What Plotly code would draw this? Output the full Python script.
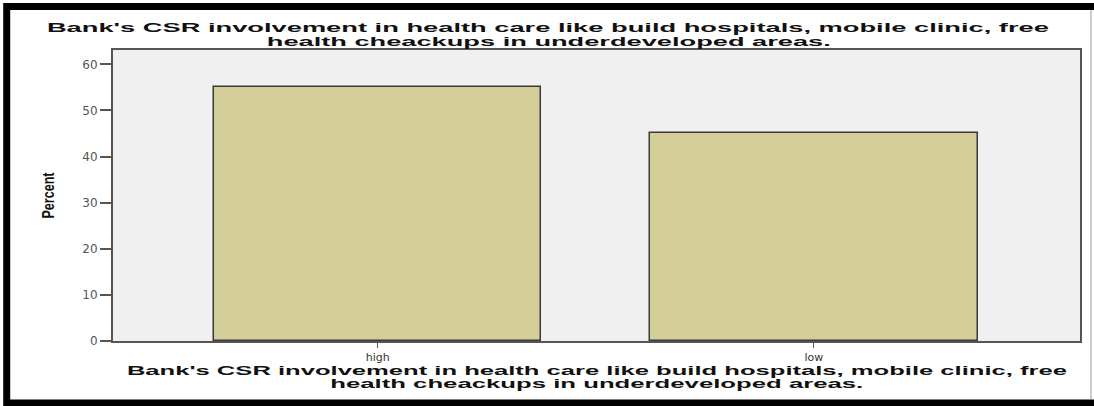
import plotly.graph_objects as go

categories = ["high", "low"]
percent = [55.0, 45.0]
y_ticks = [0, 10, 20, 30, 40, 50, 60]
title_lines = [
    "Bank's CSR involvement in health care like build hospitals, mobile clinic, free",
    "health cheackups in underdeveloped areas.",
]
y_label = "Percent"

W, H = 1094, 406
L, R, T, B = 113, 12, 50, 65
PW, PH = W - L - R, H - T - B


def px_x(px):
    return (px - L) / PW


def px_y(py):
    return (H - B - py) / PH


fig = go.Figure()
fig.add_trace(go.Bar(
    x=categories, y=percent, width=0.75,
    marker=dict(color="#d3ce98", line=dict(color="#3a3a3a", width=1.5)),
    hoverinfo="x+y",
))

title_font = dict(family="Liberation Sans, Arial", size=13, color="#111111", weight="bold")
ann = []
for line, py in zip(title_lines, [27, 41]):
    ann.append(dict(text=line, xref="paper", yref="paper", x=px_x(549), y=px_y(py),
                    xanchor="center", yanchor="middle", showarrow=False, font=title_font))
for line, py in zip(title_lines, [370, 383.5]):
    ann.append(dict(text=line, xref="paper", yref="paper", x=0.5, y=px_y(py),
                    xanchor="center", yanchor="middle", showarrow=False, font=title_font))

shapes = [
    dict(type="rect", xref="paper", yref="paper",
         x0=px_x(6.5), x1=px_x(1100), y0=px_y(403), y1=px_y(6.5),
         line=dict(color="black", width=7), fillcolor="rgba(0,0,0,0)", layer="below"),
    dict(type="line", xref="paper", yref="paper",
         x0=px_x(1093), x1=px_x(1093), y0=px_y(399), y1=px_y(10),
         line=dict(color="#999999", width=1)),
]

fig.update_layout(
    width=W, height=H,
    margin=dict(l=L, r=R, t=T, b=B),
    paper_bgcolor="white",
    plot_bgcolor="#f0f0f0",
    showlegend=False,
    bargap=0,
    annotations=ann,
    shapes=shapes,
    xaxis=dict(
        type="category", range=[-0.607, 1.61],
        showline=True, linecolor="#555555", linewidth=2, mirror=True,
        ticks="outside", ticklen=5, tickwidth=1, tickcolor="#555555",
        tickfont=dict(family="DejaVu Sans", size=11, color="#333333"),
        showgrid=False, zeroline=False,
    ),
    yaxis=dict(
        range=[0, 63.1], tickvals=y_ticks,
        showline=True, linecolor="#555555", linewidth=2, mirror=True,
        ticks="outside", ticklen=11, tickwidth=1.5, tickcolor="#555555",
        tickfont=dict(family="DejaVu Sans", size=12, color="#555555"),
        showgrid=False, zeroline=False,
        title=dict(text=y_label, standoff=24,
                   font=dict(family="Liberation Sans, Arial", size=16,
                             color="#111111", weight="bold")),
    ),
)

post_script = """
document.body.style.margin = '0';
document.body.style.padding = '0';
var gd = document.getElementById('{plot_id}');
function stretchTexts() {
  var widths = [1002, 564, 940, 533];
  var t = gd.querySelectorAll('text.annotation-text');
  t.forEach(function (el, i) {
    if (i < widths.length) {
      el.setAttribute('textLength', widths[i]);
      el.setAttribute('lengthAdjust', 'spacingAndGlyphs');
    }
  });
  var yt = gd.querySelector('text.ytitle');
  if (yt) {
    yt.setAttribute('textLength', 46);
    yt.setAttribute('lengthAdjust', 'spacingAndGlyphs');
  }
}
stretchTexts();
gd.on('plotly_afterplot', stretchTexts);
"""

fig.write_html("out.html", post_script=post_script, config={"displayModeBar": False})
